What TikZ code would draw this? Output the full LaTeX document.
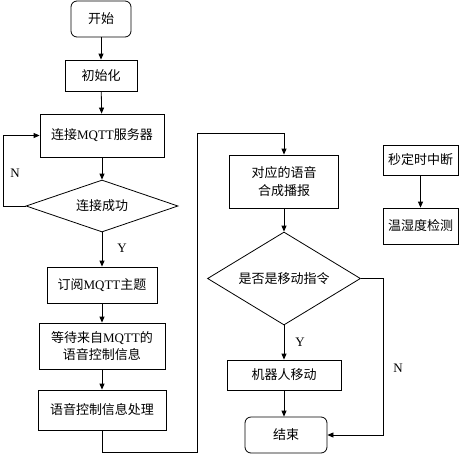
\documentclass[tikz,border=0pt]{standalone}
\usepackage{fontspec}
\setmainfont{Liberation Serif}
\newfontfamily\cjk{Noto Sans CJK SC}
\newcommand{\zhtxt}[1]{{\cjk #1}}
\usetikzlibrary{shapes.geometric,arrows.meta}
\tikzset{
  base/.style={draw, line width=0.8pt, align=center, inner sep=0pt, font=\fontsize{13}{17.5}\selectfont},
  procbox/.style={base, rectangle},
  termbox/.style={base, rectangle, rounded corners=6pt},
  decbox/.style={base, diamond},
  flow/.style={line width=0.8pt, -{Triangle[length=6pt,width=5pt]}},
  lbl/.style={font=\fontsize{13}{15}\selectfont}
}
\begin{document}
\begin{tikzpicture}[x=1pt,y=-1pt]
\useasboundingbox (0,0) rectangle (472,456);
\node[termbox, minimum width=60pt, minimum height=36pt] (start) at (101,19) {\zhtxt{开始}};
\node[procbox, minimum width=72pt, minimum height=31pt] (init) at (101,75.5) {\zhtxt{初始化}};
\node[procbox, minimum width=124pt, minimum height=43pt] (conn) at (102,135.5) {\zhtxt{连接}MQTT\zhtxt{服务器}};
\node[decbox, aspect=3, minimum width=152pt, minimum height=52pt] (d1) at (102,206) {\zhtxt{连接成功}};
\node[procbox, minimum width=110pt, minimum height=36pt] (sub) at (102,285) {\zhtxt{订阅}MQTT\zhtxt{主题}};
\node[procbox, minimum width=126pt, minimum height=46pt] (wait) at (102,346) {\zhtxt{等待来自}MQTT\zhtxt{的}\\\zhtxt{语音控制信息}};
\node[procbox, minimum width=128pt, minimum height=40pt] (proc) at (102,410) {\zhtxt{语音控制信息处理}};
\node[procbox, minimum width=109pt, minimum height=53pt] (say) at (284,181.5) {\zhtxt{对应的语音}\\\zhtxt{合成播报}};
\node[decbox, aspect=1.65, minimum width=153pt, minimum height=93pt] (d2) at (284,278.5) {\zhtxt{是否是移动指令}};
\node[procbox, minimum width=114pt, minimum height=30pt] (move) at (284,375) {\zhtxt{机器人移动}};
\node[termbox, minimum width=82pt, minimum height=36pt] (end) at (286,435) {\zhtxt{结束}};
\node[procbox, minimum width=75pt, minimum height=30pt] (timer) at (420.5,160) {\zhtxt{秒定时中断}};
\node[procbox, minimum width=75pt, minimum height=36pt] (temp) at (420.5,226) {\zhtxt{温湿度检测}};

\coordinate (q) at (3,206);
\coordinate (p1) at (197,452);
\coordinate (p2) at (197,133);
\coordinate (r) at (383,435);

\draw[flow] (start) -- (init);
\draw[flow] (init) -- (conn);
\draw[flow] (conn) -- (d1);
\draw[flow] (d1.west) -- (q) |- (conn.west);
\draw[flow] (d1) -- (sub);
\draw[flow] (sub) -- (wait);
\draw[flow] (wait) -- (proc);
\draw[flow] (proc.south) |- (p1) -- (p2) -| (say.north);
\draw[flow] (say) -- (d2);
\draw[flow] (d2) -- (move);
\draw[flow] (move.south) -- (move.south |- end.north);
\draw[flow] (d2.east) -| (r) -- (end.east);
\draw[flow] (timer) -- (temp);

\node[lbl] (n1) at (15,173) {N};
\node[lbl] (y1) at (122,248) {Y};
\node[lbl] (y2) at (300,342) {Y};
\node[lbl] (n2) at (398,368) {N};
\end{tikzpicture}
\end{document}
